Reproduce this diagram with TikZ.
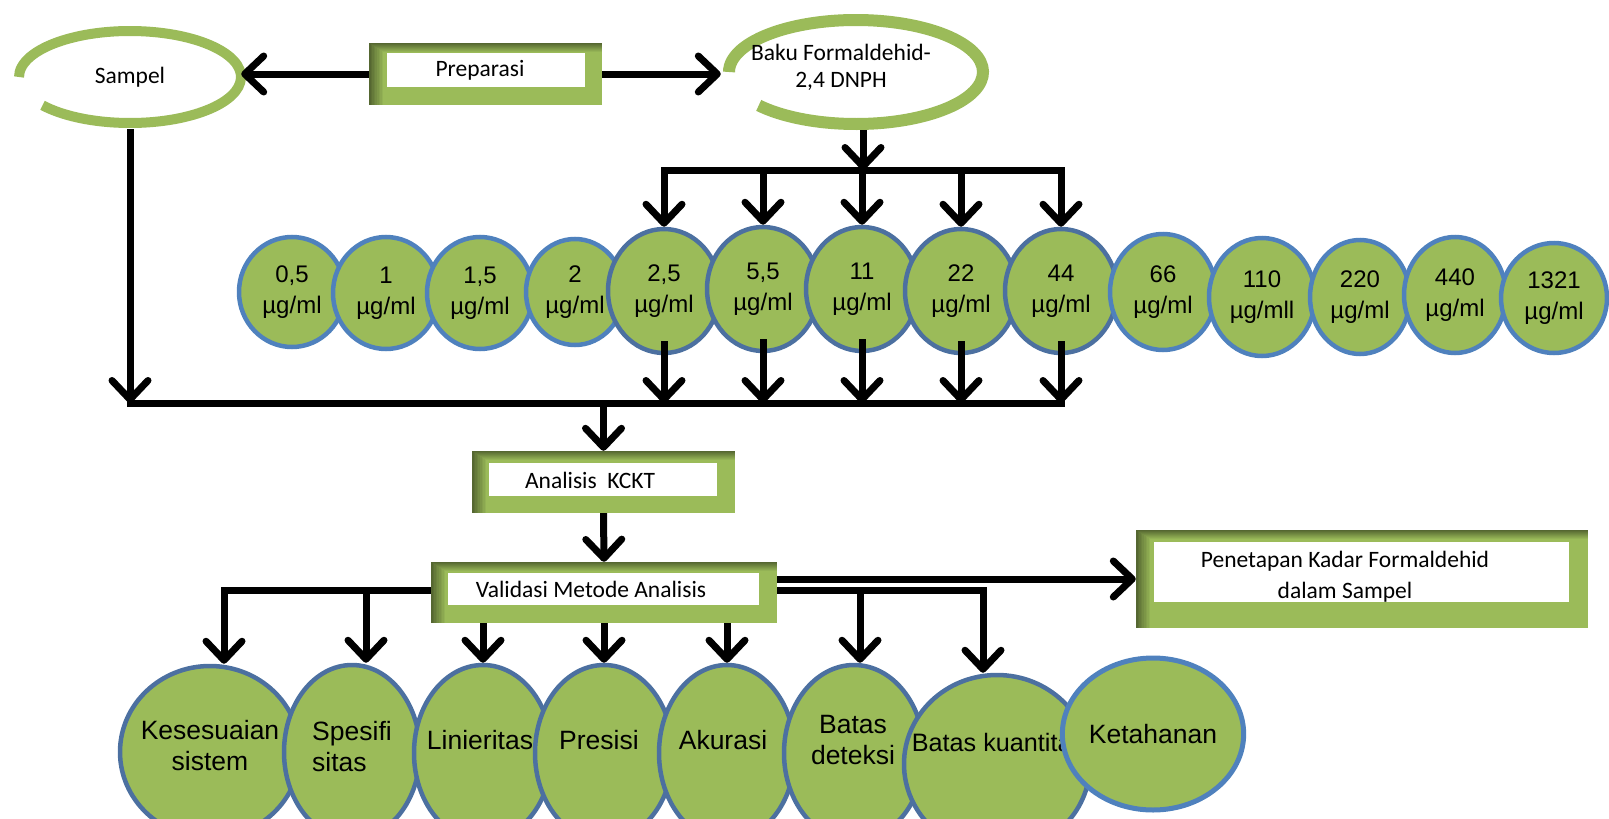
\documentclass[tikz,border=0pt]{standalone}
\usepackage{fontspec}
\setmainfont{Carlito}
\newfontfamily\arialfont{Liberation Sans}
\usepackage{tikz}
\usetikzlibrary{shapes.geometric, arrows.meta}
\definecolor{lgreen}{RGB}{155,187,89}
\definecolor{cblue}{RGB}{79,129,189}
\definecolor{dblue}{RGB}{76,112,160}
\pgfdeclareradialshading{rimglow}{\pgfpoint{0bp}{0bp}}{color(0bp)=(lgreen); color(38bp)=(lgreen); color(50bp)=(lgreen!55!black)}

\begin{document}
\begin{tikzpicture}[x=1pt, y=1pt,
    arr/.style={line width=7pt, -{Straight Barb[length=19pt, width=36pt, round]}},
    bar/.style={line width=7pt, line cap=rect},
    ring/.style={line width=10pt, color=lgreen},
    greenbox/.style={rectangle, fill=lgreen, inner sep=0pt, path picture={
        \foreach \k [evaluate=\k as \p using int(55+5*\k)] in {0,...,9}
          \fill[lgreen!\p!black] ([xshift=1.6*\k, yshift=-\k]path picture bounding box.north west) rectangle (path picture bounding box.south east);}},
    whitebox/.style={rectangle, fill=white, inner sep=0pt},
    boxtxt/.style={font=\fontsize{23.5}{31}\selectfont, align=center, inner sep=0pt},
    conc/.style={ellipse, draw=cblue, line width=4.5pt, fill=lgreen, inner sep=0pt, align=center, font=\arialfont\fontsize{24}{31}\selectfont},
    concdim/.style={conc, draw=dblue, shade, shading=rimglow},
    param/.style={ellipse, draw=dblue, line width=4.5pt, shade, shading=rimglow, inner sep=0pt},
    ptxt/.style={align=center, inner sep=0pt, font=\arialfont\fontsize{26.5}{31}\selectfont}]
    \useasboundingbox (0,0) rectangle (1609,-819);
    \clip (0,0) rectangle (1609,-819);

    % sample and standard
    \node[ellipse, minimum width=222, minimum height=104, boxtxt] (sampel) at (130,-77) {Sampel};
    \draw[ring] (sampel.center) ++(218:111pt and 46pt) arc[start angle=218, end angle=540, x radius=111pt, y radius=46pt];
    \node[ellipse, minimum width=270, minimum height=116] (baku) at (856,-72) {};
    \draw[ring, line width=12pt] (baku.center) ++(220:127pt and 52pt) arc[start angle=220, end angle=540, x radius=127pt, y radius=52pt];
    \node[boxtxt] (bakuT) at (841,-67) {Baku Formaldehid-\\[-4pt]2,4 DNPH};

    \node[greenbox, minimum width=233, minimum height=62] (prep) at (485.5,-74) {};
    \node[whitebox, minimum width=198, minimum height=34] (prepIn) at (486,-70) {};
    \node[boxtxt] (prepT) at (480,-70) {Preparasi};

    \draw[arr] (prep.west) -- (prep.west -| sampel.east);
    \draw[arr] (prep.east) -- (prep.east -| baku.west);

    % concentration series
    \node[conc, minimum width=106, minimum height=110] (c1) at (292,-292) {0,5\\µg/ml};
    \node[conc, minimum width=106, minimum height=112] (c2) at (386,-293) {1\\µg/ml};
    \node[conc, minimum width=106, minimum height=112] (c3) at (480,-293) {1,5\\µg/ml};
    \node[conc, minimum width=98, minimum height=106] (c4) at (575,-292) {2\\µg/ml};
    \node[concdim, minimum width=112, minimum height=124] (c5) at (664,-291) {2,5\\µg/ml};
    \node[concdim, minimum width=112, minimum height=124] (c6) at (763,-289) {5,5\\µg/ml};
    \node[concdim, minimum width=112, minimum height=124] (c7) at (862,-289) {11\\µg/ml};
    \node[concdim, minimum width=112, minimum height=124] (c8) at (961,-291) {22\\µg/ml};
    \node[concdim, minimum width=112, minimum height=124] (c9) at (1061,-291) {44\\µg/ml};
    \node[conc, minimum width=106, minimum height=116] (c10) at (1163,-292) {66\\µg/ml};
    \node[conc, minimum width=106, minimum height=118] (c11) at (1262,-297) {110\\µg/mll};
    \node[conc, minimum width=100, minimum height=114] (c12) at (1360,-297) {220\\µg/ml};
    \node[conc, minimum width=102, minimum height=116] (c13) at (1455,-295) {440\\µg/ml};
    \node[conc, minimum width=106, minimum height=110] (c14) at (1554,-298) {1321\\µg/ml};

    \coordinate (barT) at (0,-170);
    \coordinate (barB) at (0,-403);
    \draw[bar] (c5.north |- barT) -- (c9.north |- barT);
    \draw[arr] ([xshift=7pt]baku.south) -- ([xshift=7pt]baku.south |- barT);
    \draw[arr] (c5.north |- barT) -- (c5.north);
    \draw[arr] (c6.north |- barT) -- (c6.north);
    \draw[arr] (c7.north |- barT) -- (c7.north);
    \draw[arr] (c8.north |- barT) -- (c8.north);
    \draw[arr] (c9.north |- barT) -- (c9.north);

    \draw[arr] (sampel.south) -- (sampel.south |- barB);
    \draw[bar] (sampel.south |- barB) -- (c9.south |- barB);
    \draw[arr] ([yshift=14pt]c5.south) -- (c5.south |- barB);
    \draw[arr] ([yshift=14pt]c6.south) -- (c6.south |- barB);
    \draw[arr] ([yshift=14pt]c7.south) -- (c7.south |- barB);
    \draw[arr] ([yshift=14pt]c8.south) -- (c8.south |- barB);
    \draw[arr] ([yshift=14pt]c9.south) -- (c9.south |- barB);

    % analysis
    \node[greenbox, minimum width=263, minimum height=62] (ana) at (603.5,-482) {};
    \node[whitebox, minimum width=228, minimum height=33] (anaIn) at (603,-479.5) {};
    \node[boxtxt] (anaT) at (590,-480) {Analisis~ KCKT};
    \draw[arr] (ana.north |- barB) -- (ana.north);

    \coordinate (valL) at (224,-590);
    \coordinate (valR) at (983,-590);
    \coordinate (speDrop) at (366,-590);
    \coordinate (detDrop) at (860,-590);
    \draw[bar] (valL) -- (valR);
    \node[greenbox, minimum width=346, minimum height=61] (val) at (604,-592.5) {};
    \node[whitebox, minimum width=311, minimum height=32] (valIn) at (603.5,-589) {};
    \node[boxtxt] (valT) at (591,-589) {Validasi Metode Analisis};
    \draw[arr] (ana.south) -- (val.north);

    \node[greenbox, minimum width=452, minimum height=98] (pen) at (1362,-579) {};
    \node[whitebox, minimum width=415, minimum height=60] (penIn) at (1361.5,-572) {};
    \node[boxtxt] (penT) at (1345,-577) {Penetapan Kadar Formaldehid\\dalam Sampel};
    \draw[arr] (val.east |- pen.west) -- (pen.west);

    % validation parameters
    \node[param, minimum width=180, minimum height=172] (kes) at (210,-752) {};
    \node[ptxt] (kesT) at (210,-746) {Kesesuaian\\sistem};
    \node[param, minimum width=136, minimum height=174] (spe) at (352,-752) {};
    \node[ptxt, align=left] (speT) at (352,-747) {Spesifi\\sitas};
    \node[param, minimum width=138, minimum height=176] (lin) at (483,-753) {};
    \node[ptxt] (linT) at (480,-740) {Linieritas};
    \node[param, minimum width=138, minimum height=176] (pre) at (604,-753) {};
    \node[ptxt] (preT) at (599,-740) {Presisi};
    \node[param, minimum width=136, minimum height=176] (aku) at (727,-753) {};
    \node[ptxt] (akuT) at (723,-740) {Akurasi};
    \node[param, minimum width=140, minimum height=176] (det) at (854,-753) {};
    \node[ptxt] (detT) at (853,-740) {Batas\\deteksi};
    \node[param, minimum width=186, minimum height=178] (kua) at (997,-764) {};
    \node[ptxt, font=\arialfont\fontsize{25.2}{31}\selectfont] (kuaT) at (998,-742) {Batas kuantitas};
    \node[ellipse, draw=cblue, line width=5pt, fill=lgreen, minimum width=176, minimum height=152, ptxt] (ket) at (1153,-734) {Ketahanan};

    \draw[arr] (valL) -- (valL |- kes.north);
    \draw[arr] (speDrop) -- (speDrop |- spe.north);
    \draw[arr] (val.south -| lin.north) -- (lin.north);
    \draw[arr] (val.south -| pre.north) -- (pre.north);
    \draw[arr] (val.south -| aku.north) -- (aku.north);
    \draw[arr] (detDrop) -- (detDrop |- det.north);
    \draw[arr] (valR) -- (valR |- kua.north);
\end{tikzpicture}
\end{document}
